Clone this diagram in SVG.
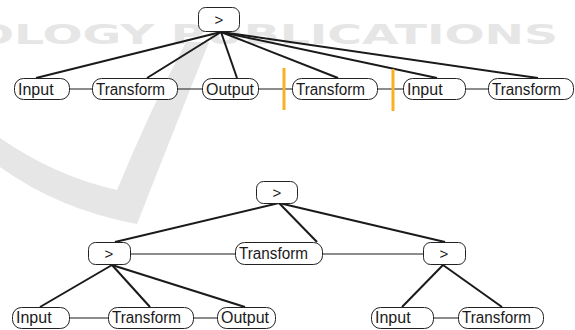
<svg xmlns="http://www.w3.org/2000/svg" width="575" height="330" viewBox="0 0 575 330">
<style>
.bg{fill:#ffffff}
.wm{fill:#e6e6e6}
.wmt{fill:#e6e6e6;font-family:"DejaVu Sans",sans-serif;font-size:26px;font-weight:bold}
.box{fill:#ffffff;stroke:#222222;stroke-width:1}
.lbl{font-family:"Liberation Sans",Arial,sans-serif;font-size:16px;fill:#1a1a1a}
.op{font-family:"Liberation Sans",Arial,sans-serif;font-size:15px;fill:#1a1a1a;text-anchor:middle}
.edge{stroke:#1a1a1a;stroke-width:2;fill:none}
.seq{stroke:#1a1a1a;stroke-width:1;fill:none}
.bar{stroke:#fbb024;stroke-width:3}
</style>
<rect class="bg" x="0" y="0" width="575" height="330"/>
<g id="watermark">
<path class="wm" d="M0,138 Q55,176 117,190 Q150,110 186,42 L209,42 Q170,140 137,224 Q60,210 0,167 Z"/>
<text class="wmt" x="-26" y="44" textLength="584" lengthAdjust="spacingAndGlyphs">OLOGY PUBLICATIONS</text>
</g>
<g id="connectors">
<line class="edge" x1="221" y1="32" x2="36" y2="78"/>
<line class="edge" x1="221" y1="32" x2="147" y2="78"/>
<line class="edge" x1="221" y1="32" x2="237" y2="78"/>
<line class="edge" x1="221" y1="32" x2="338" y2="78"/>
<line class="edge" x1="221" y1="32" x2="437" y2="78"/>
<line class="edge" x1="221" y1="32" x2="538" y2="78"/>
<line class="seq" x1="69" y1="89" x2="92" y2="89"/>
<line class="seq" x1="177" y1="89" x2="202" y2="89"/>
<line class="seq" x1="258" y1="89" x2="292" y2="89"/>
<line class="seq" x1="377" y1="89" x2="403" y2="89"/>
<line class="seq" x1="465" y1="89" x2="488" y2="89"/>
<line class="bar" x1="284" y1="68" x2="284" y2="110"/>
<line class="bar" x1="393" y1="69" x2="393" y2="111"/>
<line class="edge" x1="279" y1="203" x2="115" y2="242"/>
<line class="edge" x1="279" y1="203" x2="317" y2="242"/>
<line class="edge" x1="279" y1="203" x2="445" y2="242"/>
<line class="seq" x1="130" y1="254" x2="235" y2="254"/>
<line class="seq" x1="322" y1="254" x2="423" y2="254"/>
<line class="edge" x1="112" y1="265" x2="40" y2="307"/>
<line class="edge" x1="112" y1="265" x2="150" y2="307"/>
<line class="edge" x1="112" y1="265" x2="245" y2="307"/>
<line class="edge" x1="443" y1="265" x2="402" y2="307"/>
<line class="edge" x1="443" y1="265" x2="502" y2="307"/>
<line class="seq" x1="69" y1="318" x2="108" y2="318"/>
<line class="seq" x1="193" y1="318" x2="217" y2="318"/>
<line class="seq" x1="433" y1="318" x2="458" y2="318"/>
</g>
<g id="t-root"><rect class="box" x="198.5" y="7.5" width="41" height="24" rx="7"/><text class="op" x="219" y="25">&gt;</text></g>
<g id="t-input1"><rect class="box" x="14.5" y="78.5" width="55" height="21" rx="9"/><text class="lbl" x="18" y="95">Input</text></g>
<g id="t-transform1"><rect class="box" x="92.5" y="78.5" width="85" height="21" rx="9"/><text class="lbl" x="96" y="95" textLength="69" lengthAdjust="spacingAndGlyphs">Transform</text></g>
<g id="t-output1"><rect class="box" x="202.5" y="78.5" width="56" height="21" rx="9"/><text class="lbl" x="206" y="95">Output</text></g>
<g id="t-transform2"><rect class="box" x="292.5" y="78.5" width="85" height="21" rx="9"/><text class="lbl" x="296" y="95" textLength="69" lengthAdjust="spacingAndGlyphs">Transform</text></g>
<g id="t-input2"><rect class="box" x="403.5" y="78.5" width="62" height="21" rx="9"/><text class="lbl" x="407" y="95">Input</text></g>
<g id="t-transform3"><rect class="box" x="488.5" y="78.5" width="85" height="21" rx="9"/><text class="lbl" x="492" y="95" textLength="69" lengthAdjust="spacingAndGlyphs">Transform</text></g>
<g id="b-root"><rect class="box" x="256.5" y="181.5" width="41" height="22" rx="7"/><text class="op" x="277" y="198">&gt;</text></g>
<g id="b-seq-left"><rect class="box" x="88.5" y="242.5" width="42" height="22" rx="7"/><text class="op" x="109" y="259">&gt;</text></g>
<g id="b-transform-mid"><rect class="box" x="235.5" y="242.5" width="87" height="22" rx="9"/><text class="lbl" x="239" y="259" textLength="69" lengthAdjust="spacingAndGlyphs">Transform</text></g>
<g id="b-seq-right"><rect class="box" x="423.5" y="242.5" width="42" height="22" rx="7"/><text class="op" x="444" y="259">&gt;</text></g>
<g id="b-input1"><rect class="box" x="12.5" y="307.5" width="57" height="21" rx="9"/><text class="lbl" x="16" y="323">Input</text></g>
<g id="b-transform1"><rect class="box" x="108.5" y="307.5" width="85" height="21" rx="9"/><text class="lbl" x="112" y="323" textLength="69" lengthAdjust="spacingAndGlyphs">Transform</text></g>
<g id="b-output1"><rect class="box" x="217.5" y="307.5" width="58" height="21" rx="9"/><text class="lbl" x="221" y="323">Output</text></g>
<g id="b-input2"><rect class="box" x="371.5" y="307.5" width="62" height="21" rx="9"/><text class="lbl" x="375" y="323">Input</text></g>
<g id="b-transform2"><rect class="box" x="458.5" y="307.5" width="85" height="21" rx="9"/><text class="lbl" x="462" y="323" textLength="69" lengthAdjust="spacingAndGlyphs">Transform</text></g>
</svg>
